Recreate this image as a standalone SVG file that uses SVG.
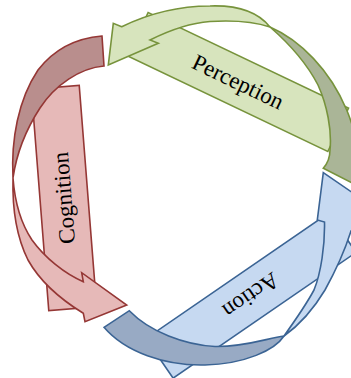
<svg xmlns="http://www.w3.org/2000/svg" width="351" height="378" viewBox="0 0 351 378">
<style>
  .lbl { font-family: "Liberation Serif", "Times New Roman", serif; font-size: 23px; fill: #000; text-anchor: middle; dominant-baseline: central; }
  .sw { stroke-width: 1.6; stroke-linejoin: miter; }
  .r-lt { fill: #e6b9b8; stroke: #953735; }
  .r-dk { fill: #b98e8d; stroke: #953735; }
  .g-lt { fill: #d7e4bd; stroke: #77933c; }
  .g-dk { fill: #aab597; stroke: #77933c; }
  .b-lt { fill: #c6d9f1; stroke: #3b6494; }
  .b-dk { fill: #98aac4; stroke: #3b6494; }
</style>
<rect width="351" height="378" fill="#ffffff"/>
<g id="cognition">
  <rect class="r-lt sw" x="-111" y="-24" width="222" height="48" transform="translate(64,198) rotate(-94.5)"/>
  <text class="lbl" transform="translate(64,198) rotate(-94.5)">Cognition</text>
</g>
<g id="perception">
  <rect class="g-lt sw" x="-111" y="-24" width="222" height="48" transform="translate(238,82) rotate(25.5)"/>
  <text class="lbl" transform="translate(238,82) rotate(25.5)">Perception</text>
</g>
<g id="action">
  <rect class="b-lt sw" x="-111" y="-24" width="222" height="48" transform="translate(251,295.5) rotate(-34.5)"/>
  <text class="lbl" transform="translate(251,295.5) rotate(145.5)">Action</text>
</g>
<g id="connectors">
  <!-- Cognition arrow -->
  <path class="r-dk sw" d="M102,36 L104,66 C80,68 55,85 40,108 C27,128 17,150 13,178 C11,140 18,100 38,70 C55,48 78,38 102,36 Z"/>
  <path class="r-lt sw" d="M13,178 C15,205 22,225 32,240 C45,258 65,274 83.3,281.7 L81.7,272.7 L126.7,305 L85,321.7 L83.3,313.3 C65,302 42,285 28,260 C18,240 12,215 13,178 Z"/>
  <!-- Perception arrow -->
  <path class="g-dk sw" d="M270,27 C285,40 305,60 318,85 C327,105 332,130 330,150 C330,158 327,164 323.3,168.3 L366,190 C362,160 355,130 346.7,110 C330,70 300,40 270,27 Z"/>
  <path class="g-lt sw" d="M121.7,26.7 L113.3,23.3 L108.3,65 L158.3,43.3 L150,40 C170,30 190,23 210,21.5 C235,20 255,22 270,27 C258,12 238,5 210,6 C180,6 150,13 121.7,26.7 Z"/>
  <!-- Action arrow -->
  <path class="b-dk sw" d="M104,327.3 L129.3,310.7 C150,332 185,345 215,346.5 C245,347 268,338 284,336 C275,350 245,364 205,365 C165,366 125,352 104,327.3 Z"/>
  <path class="b-lt sw" d="M284,336 C294,322 306,305 314,290 C321,273 325,245 324.5,222 L317.3,220 L323.3,172.7 L375,208 L362,234 L351,231 C345,250 335,272 325,290 C313,310 298,326 284,336 Z"/>
</g>
</svg>
